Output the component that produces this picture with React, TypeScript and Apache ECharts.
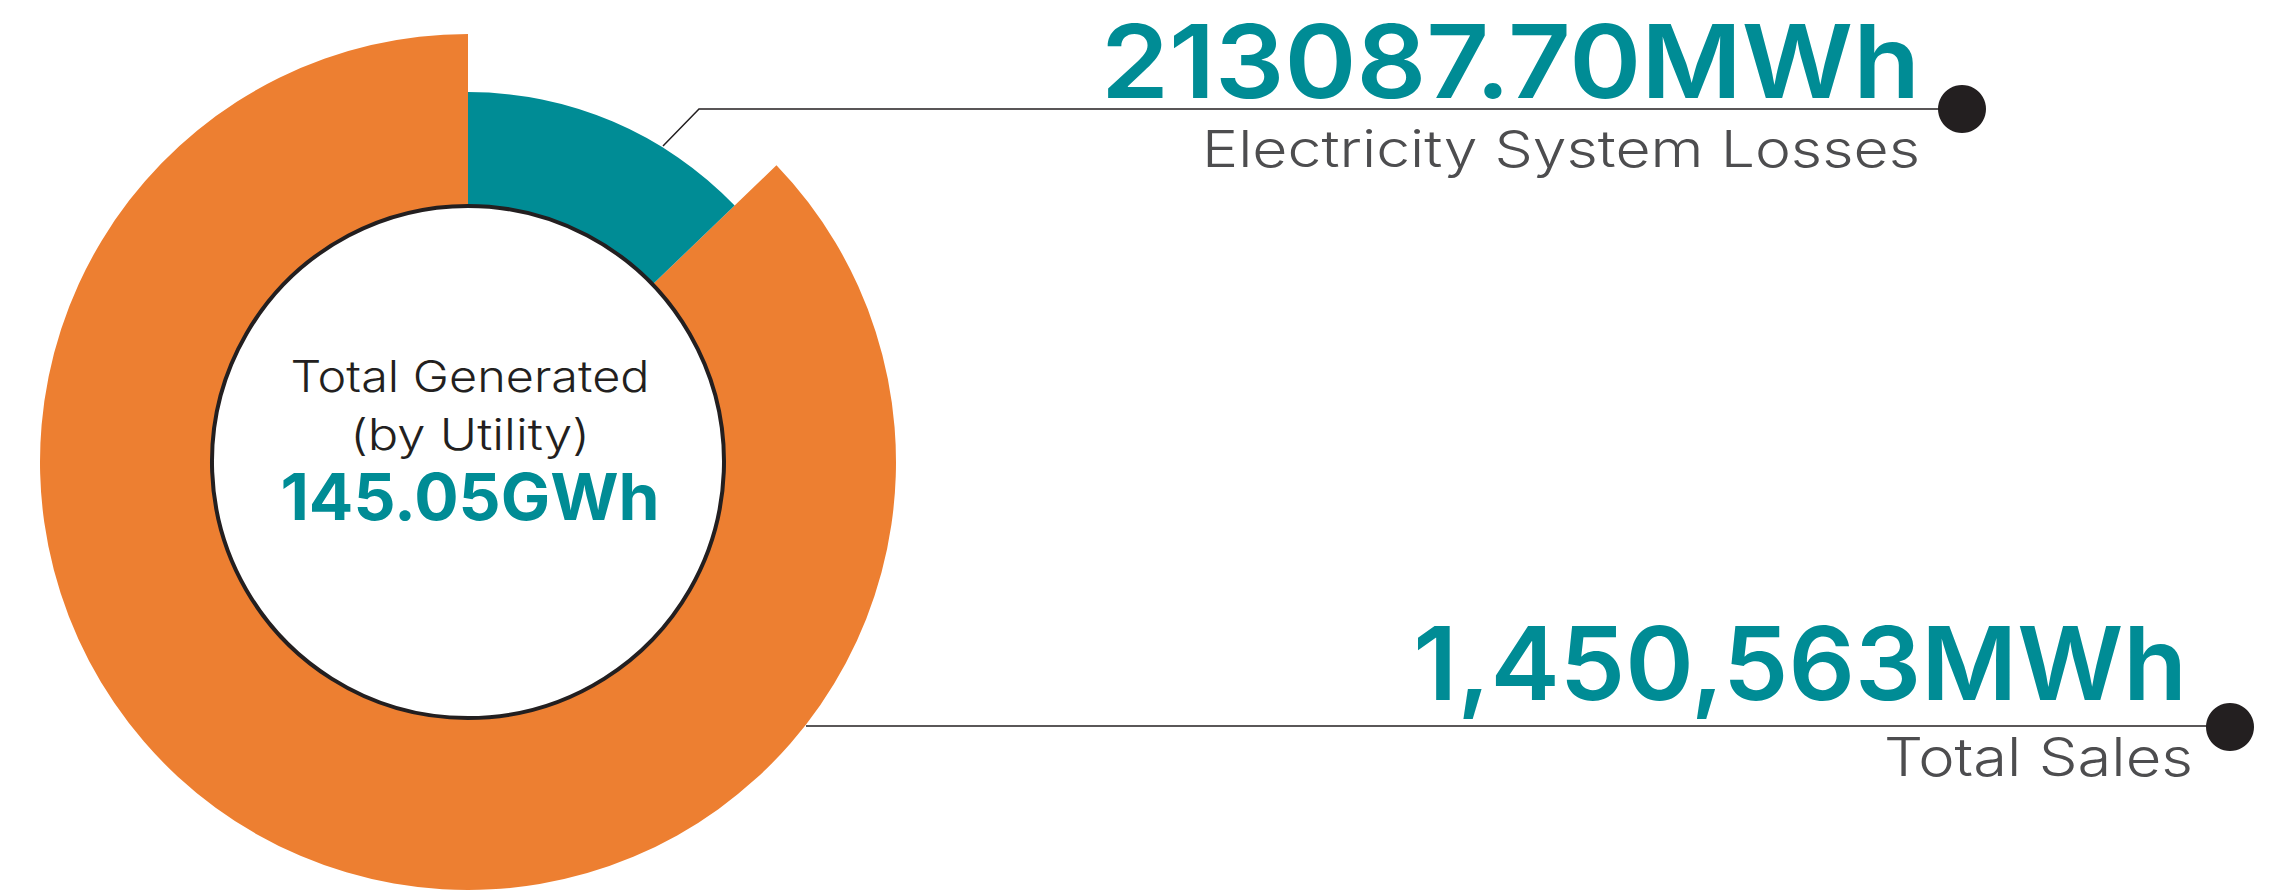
import React, { useEffect, useRef } from "react";
import * as echarts from "echarts";

const categories = ["Electricity System Losses", "Total Sales"];
const values = [213087.7, 1450563];
const valueLabels = ["213087.70MWh", "1,450,563MWh"];
const centerTitle = ["Total Generated", "(by Utility)"];
const centerValue = "145.05GWh";

const TEAL = "#008c95";
const ORANGE = "#ed7f31";
const DARK = "#231f20";
const GREY = "#4d4d4f";
const FONT = "Inter, 'Noto Sans', sans-serif";

export default function App() {
  const ref = useRef<HTMLDivElement>(null);
  useEffect(() => {
    if (!ref.current) return;
    const chart = echarts.init(ref.current, undefined, { renderer: "svg" });
    const cx = 468;
    const cy = 462;
    const rin = 256;
    const rSales = 428;
    const rLoss = 370;
    const clear = "rgba(0,0,0,0)";
    const base = {
      type: "pie",
      center: [cx, cy],
      startAngle: 90,
      clockwise: true,
      silent: true,
      label: { show: false },
      labelLine: { show: false },
      emphasis: { disabled: true },
    };
    chart.setOption({
      animation: false,
      backgroundColor: "#ffffff",
      series: [
        {
          ...base,
          name: "sales",
          radius: [rin, rSales],
          data: [
            { name: categories[0], value: values[0], itemStyle: { color: clear } },
            { name: categories[1], value: values[1], itemStyle: { color: ORANGE } },
          ],
        },
        {
          ...base,
          name: "losses",
          radius: [rin, rLoss],
          data: [
            { name: categories[0], value: values[0], itemStyle: { color: TEAL } },
            { name: categories[1], value: values[1], itemStyle: { color: clear } },
          ],
        },
        {
          ...base,
          name: "hub",
          radius: [0, rin],
          z: 5,
          data: [{ name: "hub", value: 1, itemStyle: { color: "#ffffff", borderColor: DARK, borderWidth: 4 } }],
        },
      ],
      graphic: [
        {
          type: "polyline",
          shape: { points: [[663, 146], [699, 109], [1962, 109]] },
          style: { stroke: DARK, lineWidth: 1.5, fill: null },
        },
        { type: "circle", shape: { cx: 1962, cy: 109, r: 24 }, style: { fill: DARK } },
        {
          type: "line",
          shape: { x1: 806, y1: 726, x2: 2230, y2: 726 },
          style: { stroke: DARK, lineWidth: 1.5 },
        },
        { type: "circle", shape: { cx: 2230, cy: 727, r: 24 }, style: { fill: DARK } },
        {
          type: "text",
          x: 1920,
          y: 61,
          scaleX: 1.07,
          style: { text: valueLabels[0], fill: TEAL, font: `600 102px ${FONT}`, align: "right", verticalAlign: "middle" },
        },
        {
          type: "text",
          x: 1920,
          y: 149,
          scaleX: 1.19,
          style: { text: categories[0], fill: GREY, font: `300 51px ${FONT}`, align: "right", verticalAlign: "middle" },
        },
        {
          type: "text",
          x: 2187,
          y: 663,
          scaleX: 1.02,
          style: { text: valueLabels[1], fill: TEAL, font: `600 102px ${FONT}`, align: "right", verticalAlign: "middle" },
        },
        {
          type: "text",
          x: 2193,
          y: 757,
          scaleX: 1.16,
          style: { text: categories[1], fill: GREY, font: `300 53px ${FONT}`, align: "right", verticalAlign: "middle" },
        },
        {
          type: "text",
          x: 470,
          y: 377,
          z: 10,
          scaleX: 1.13,
          style: { text: centerTitle[0], fill: DARK, font: `300 43px ${FONT}`, align: "center", verticalAlign: "middle" },
        },
        {
          type: "text",
          x: 470,
          y: 434,
          z: 10,
          scaleX: 1.18,
          style: { text: centerTitle[1], fill: DARK, font: `300 43px ${FONT}`, align: "center", verticalAlign: "middle" },
        },
        {
          type: "text",
          x: 470,
          y: 497,
          z: 10,
          scaleX: 1.03,
          style: { text: centerValue, fill: TEAL, font: `700 64px ${FONT}`, align: "center", verticalAlign: "middle" },
        },
      ],
    });
    return () => chart.dispose();
  }, []);
  return (
    <div
      ref={ref}
      style={{ position: "fixed", left: 0, top: 0, width: 2295, height: 891, background: "#fff" }}
    />
  );
}
